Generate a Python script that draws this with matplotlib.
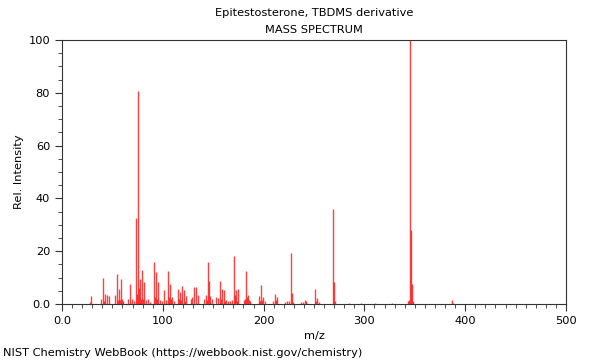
import matplotlib
matplotlib.use('Agg')
import matplotlib.pyplot as plt
from matplotlib.ticker import MultipleLocator, FuncFormatter

title = 'Epitestosterone, TBDMS derivative'
subtitle = 'MASS SPECTRUM'
footer = 'NIST Chemistry WebBook (https://webbook.nist.gov/chemistry)'

mz = [28, 29, 39, 41, 42, 43, 45, 47, 53, 55, 56, 57, 58, 59, 60, 61, 65, 67, 69, 71,
      73, 74, 75, 76, 77, 78, 79, 80, 81, 83, 85, 87, 91, 92, 93, 94, 95, 97, 99, 101,
      103, 105, 106, 107, 108, 109, 111, 115, 116, 117, 118, 119, 121, 122, 123, 128, 129, 131, 133, 135,
      141, 143, 144, 145, 146, 147, 149, 153, 155, 157, 158, 159, 161, 162, 163, 165, 167, 169, 171, 172,
      173, 174, 175, 181, 182, 183, 184, 185, 186, 187, 195, 196, 197, 198, 199, 201, 209, 211, 212, 213,
      221, 223, 225, 227, 228, 229, 237, 239, 241, 242, 251, 252, 253, 255, 269, 270, 271, 285, 297, 311,
      327, 343, 344, 345, 346, 347, 348, 387, 388]
intensity = [0.6, 3.0, 2.0, 10.0, 1.0, 3.8, 3.4, 3.0, 3.4, 11.2, 1.5, 5.6, 1.5, 9.3, 1.8, 1.2, 2.0, 7.4, 1.8, 1.0,
             32.5, 3.8, 80.5, 6.0, 9.6, 1.8, 12.9, 2.0, 8.3, 1.5, 1.9, 0.8, 16.0, 2.5, 12.3, 2.0, 8.2, 1.5, 1.2, 5.3,
             1.5, 12.4, 2.5, 7.5, 1.8, 2.8, 1.0, 5.7, 2.0, 4.5, 1.5, 6.9, 5.3, 1.2, 3.0, 2.0, 2.5, 6.6, 6.3, 3.4,
             1.8, 3.4, 1.5, 16.0, 8.7, 3.0, 2.0, 2.5, 2.4, 8.7, 2.0, 5.7, 5.4, 1.0, 1.5, 1.2, 1.0, 1.5, 18.0, 3.5,
             5.2, 1.0, 5.8, 1.5, 2.0, 12.4, 2.5, 3.5, 1.5, 1.0, 3.0, 1.2, 7.3, 1.5, 2.8, 1.0, 1.0, 3.8, 1.5, 2.8,
             0.6, 1.0, 1.2, 19.4, 4.3, 0.8, 0.8, 0.6, 1.4, 1.3, 5.5, 1.2, 2.3, 0.6, 36.0, 8.2, 1.0, 0.4, 0.3, 0.4,
             0.5, 1.0, 1.5, 100.0, 28.0, 7.5, 1.0, 1.5, 0.5]

fs = 8.2

fig = plt.figure(figsize=(6, 3.6), dpi=100)
ax = fig.add_axes([62/600, 1 - 304/360, 504/600, 264/360])

ax.vlines(mz, 0, intensity, colors='#ff0000', alpha=0.75, linewidth=1.0)

ax.set_xlim(0, 500)
ax.set_ylim(0, 100)
ax.xaxis.set_major_locator(MultipleLocator(100))
ax.xaxis.set_minor_locator(MultipleLocator(10))
ax.yaxis.set_major_locator(MultipleLocator(20))
ax.yaxis.set_minor_locator(MultipleLocator(5))
fmt = FuncFormatter(lambda v, p: '0.0' if v == 0 else f'{v:g}')
ax.xaxis.set_major_formatter(fmt)
ax.yaxis.set_major_formatter(fmt)
ax.tick_params(which='major', length=5, width=0.8, labelsize=fs, direction='out', color='#333333')
ax.tick_params(which='minor', length=3, width=0.6, direction='out', color='#333333')
for s in ax.spines.values():
    s.set_linewidth(0.8)
    s.set_color('#333333')

ax.set_xlabel('m/z', fontsize=fs, labelpad=4)
ax.set_ylabel('Rel. Intensity', fontsize=fs, labelpad=3)

fig.text(314/600, 1 - 13/360, title, ha='center', va='center', fontsize=fs)
fig.text(314/600, 1 - 30/360, subtitle, ha='center', va='center', fontsize=fs)
fig.text(3/600, 1 - 353/360, footer, ha='left', va='center', fontsize=fs)

fig.savefig('out.png', dpi=100)
